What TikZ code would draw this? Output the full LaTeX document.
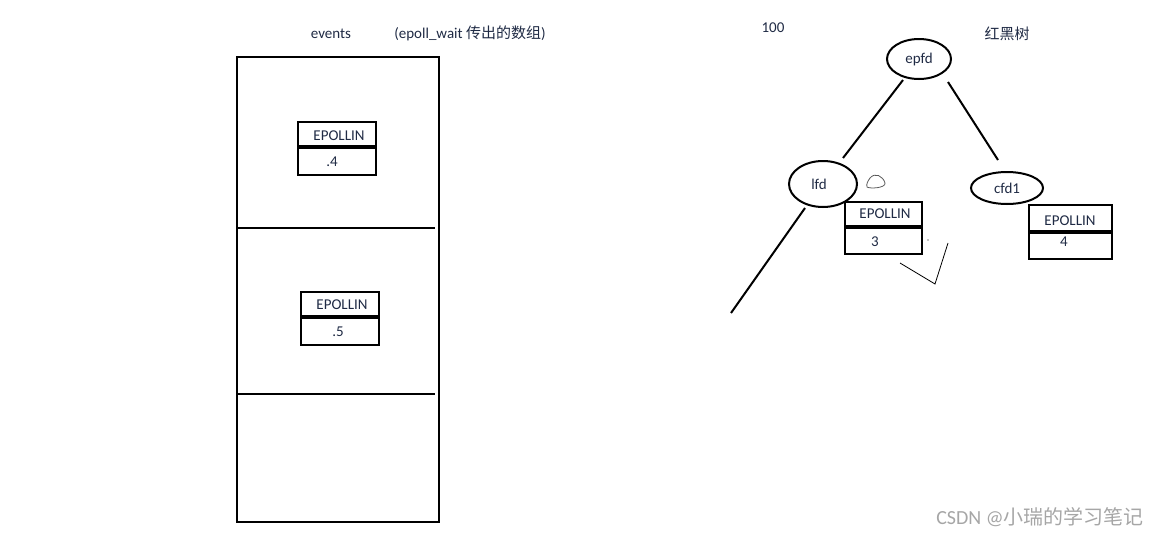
\documentclass[tikz,border=0pt]{standalone}
\usepackage{fontspec}
\setmainfont{Carlito}
\newfontfamily\cjk{Noto Sans CJK SC}
\definecolor{txt}{HTML}{1F2A44}
\begin{document}
\begin{tikzpicture}[x=1pt,y=-1pt,
  lab/.style={font=\fontsize{15}{17}\selectfont,text=txt,inner sep=0pt},
  box/.style={draw,line width=2.3pt},
  ell/.style={draw,line width=2pt},
  edge/.style={line width=2pt}]
\useasboundingbox (0,0) rectangle (1162,536);
% left array
\draw[line width=2.5pt] (237,57) rectangle (439,522);
\draw[line width=2.5pt] (237,228) -- (435,228);
\draw[line width=2.5pt] (237,394) -- (435,394);
\node[lab] (ev) at (331,34) {events};
\node[lab] (ew) at (470,33) {(epoll\_wait {\cjk 传出的数组})};
% box1
\draw[box] (298,122) rectangle (376,175);
\draw[line width=3.5pt] (298,147) -- (376,147);
\node[lab] (e1) at (339,136) {EPOLLIN};
\node[lab] (n1) at (332,162) {.4};
\draw[box] (301,292) rectangle (379,345);
\draw[line width=3.5pt] (301,317) -- (379,317);
\node[lab] (e2) at (342,305) {EPOLLIN};
\node[lab] (n2) at (338,332) {.5};
% tree
\node[lab] (h) at (773,28) {100};
\node[lab] (rb) at (1007,34) {\cjk 红黑树};
\draw[ell] (919,59) ellipse [x radius=32,y radius=20];
\node[lab] (epfd) at (919,59) {epfd};
\draw[ell] (823,184) ellipse [x radius=34,y radius=23];
\node[lab] (lfd) at (819,184) {lfd};
\draw[ell] (1007,188) ellipse [x radius=36,y radius=16];
\node[lab] (cfd) at (1007,188) {cfd1};
\draw[edge] (903,80) -- (843,158);
\draw[edge] (948,82) -- (998,160);
\draw[edge] (805,208) -- (731,313);
\draw[box] (845,202) rectangle (922,254);
\draw[line width=3.5pt] (845,227) -- (922,227);
\node[lab] (e3) at (885,214) {EPOLLIN};
\node[lab] (n3) at (875,242) {3};
\draw[box] (1029,205) rectangle (1112,259);
\draw[line width=3.5pt] (1029,232) -- (1112,232);
\node[lab] (e4) at (1070,221) {EPOLLIN};
\node[lab] (n4) at (1064,242) {4};
% scribbles
\draw[gray!70!black,line width=0.8pt] (870,178) .. controls (875,172) and (883,176) .. (885,183) .. controls (886,188) and (870,189) .. (867,187) .. controls (866,184) and (868,181) .. (870,178);
\draw[line width=0.8pt] (900,263) -- (935,284) -- (948,243);
\fill (928,240) circle (0.7);
\node[font=\fontsize{20}{22}\selectfont,text=gray!70,inner sep=0pt] (wm) at (1040,517) {CSDN @{\cjk 小瑞的学习笔记}};
\end{tikzpicture}
\end{document}
